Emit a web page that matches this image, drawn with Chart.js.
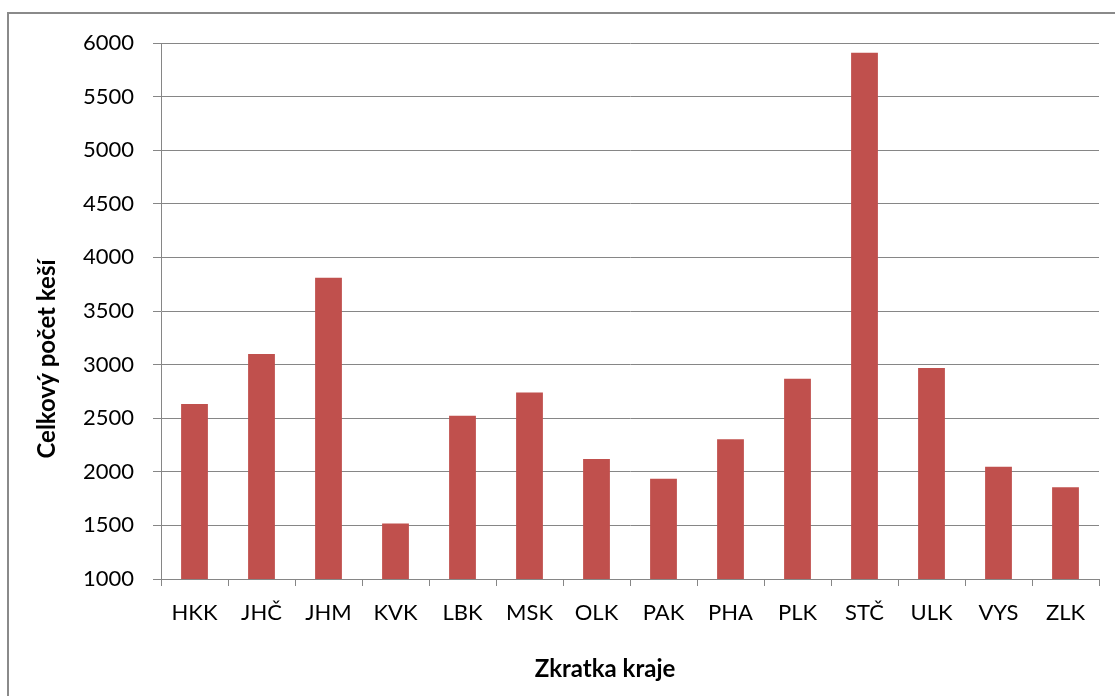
<!DOCTYPE html>
<html>
<head>
<meta charset="utf-8">
<title>Celkový počet keší podle krajů</title>
<script src="https://cdn.jsdelivr.net/npm/chart.js@4.4.1/dist/chart.umd.min.js"></script>
<style>
  html, body { margin: 0; padding: 0; background: #ffffff; }
  #wrap { width: 1115px; height: 696px; }
</style>
</head>
<body>
<div id="wrap"><canvas id="chart" width="1115" height="696"></canvas></div>
<script>
// Region abbreviations and total cache counts
const categories = ['HKK', 'JHČ', 'JHM', 'KVK', 'LBK', 'MSK', 'OLK', 'PAK', 'PHA', 'PLK', 'STČ', 'ULK', 'VYS', 'ZLK'];
const cacheCounts = [2632, 3099, 3811, 1517, 2524, 2739, 2119, 1936, 2303, 2869, 5910, 2968, 2048, 1855];

// Value axis range and step
const yMin = 1000;
const yMax = 6000;
const yStep = 500;

const xTitle = 'Zkratka kraje';
const yTitle = 'Celkový počet keší';

const AXIS_GREY = '#868686';
const BAR_RED = '#C0504D';
const FONT = 'Lato';

// Outer frame of the chart object
const framePlugin = {
  id: 'frame',
  beforeDraw(chart) {
    const ctx = chart.ctx;
    ctx.save();
    ctx.strokeStyle = '#8a8a8a';
    ctx.lineWidth = 2;
    ctx.beginPath();
    ctx.moveTo(8, chart.height);
    ctx.lineTo(8, 13);
    ctx.lineTo(chart.width, 13);
    ctx.stroke();
    ctx.restore();
  }
};

// Axis titles placed freely, as in the spreadsheet layout
const axisTitlePlugin = {
  id: 'axisTitles',
  afterDraw(chart) {
    const ctx = chart.ctx;
    ctx.save();
    ctx.fillStyle = '#000';
    ctx.textAlign = 'center';
    ctx.textBaseline = 'middle';
    ctx.font = 'bold 24px ' + FONT;
    ctx.fillText(xTitle, 605, 669);
    ctx.translate(47, 359);
    ctx.rotate(-Math.PI / 2);
    ctx.fillText(yTitle, 0, 0);
    ctx.restore();
  }
};

new Chart(document.getElementById('chart'), {
  type: 'bar',
  data: {
    labels: categories,
    datasets: [{
      data: cacheCounts,
      backgroundColor: BAR_RED,
      borderWidth: 0,
      barPercentage: 0.4,
      categoryPercentage: 1.0
    }]
  },
  options: {
    responsive: false,
    animation: false,
    devicePixelRatio: 1,
    layout: { padding: { left: 10, top: 43, right: 16, bottom: 0 } },
    plugins: {
      legend: { display: false },
      tooltip: { enabled: false },
      title: { display: false }
    },
    scales: {
      x: {
        offset: true,
        grid: {
          display: true,
          offset: true,
          drawOnChartArea: false,
          drawTicks: true,
          tickLength: 7,
          color: AXIS_GREY,
          lineWidth: 1
        },
        border: { display: true, color: AXIS_GREY, width: 1 },
        ticks: {
          color: '#000',
          font: { family: FONT, size: 22 },
          padding: 14,
          maxRotation: 0,
          autoSkip: false
        },
        afterFit(scale) { scale.height = 117; }
      },
      y: {
        min: yMin,
        max: yMax,
        grid: {
          color: AXIS_GREY,
          lineWidth: 1,
          drawTicks: true,
          tickLength: 8
        },
        border: { display: true, color: AXIS_GREY, width: 1 },
        ticks: {
          stepSize: yStep,
          color: '#000',
          font: { family: FONT, size: 22 },
          padding: 19,
          callback: (value) => String(value)
        },
        afterFit(scale) { scale.width = 151; }
      }
    }
  },
  plugins: [framePlugin, axisTitlePlugin]
});
</script>
</body>
</html>
